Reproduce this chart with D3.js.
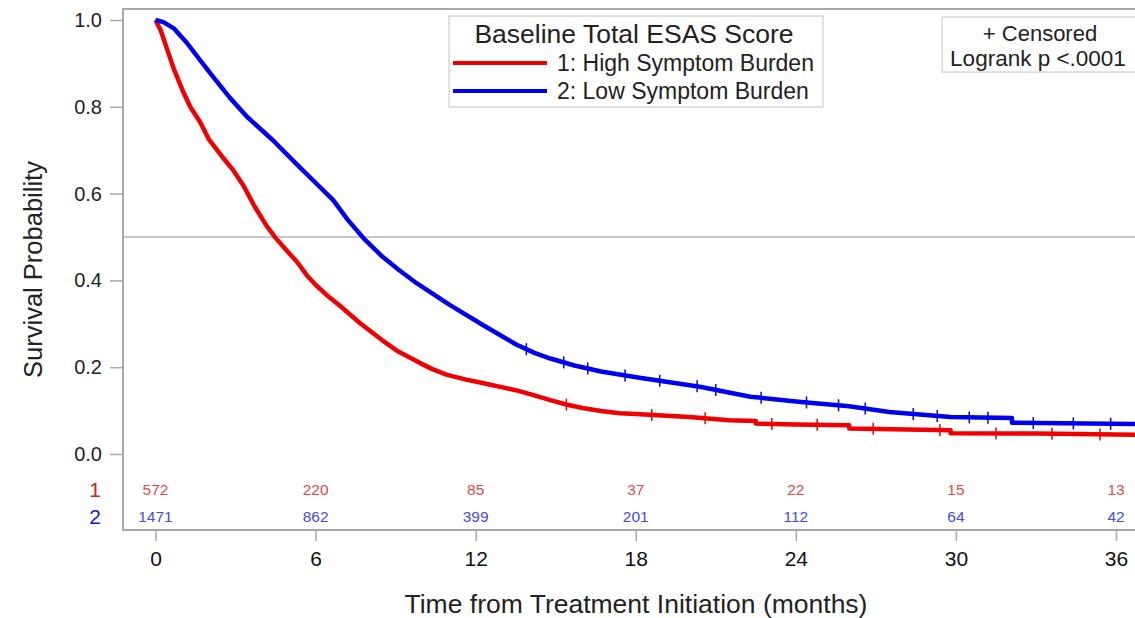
<!DOCTYPE html>
<html>
<head>
<meta charset="utf-8">
<script src="https://cdn.jsdelivr.net/npm/d3@7"></script>
<style>
  body { margin: 0; background: #fff; }
  text { font-family: "Liberation Sans", Arial, sans-serif; }
</style>
</head>
<body>
<div id="chart"></div>
<script>
// Kaplan-Meier estimates (months, survival)
const highTimes = [0, 0.2, 0.45, 0.7, 1.0, 1.3, 1.67, 2.0, 2.5, 2.9, 3.3, 3.7, 4.17, 4.5, 4.9, 5.3, 5.67, 6.0, 6.4, 6.9, 7.66, 8.5, 9.1, 9.9, 10.4, 10.9, 11.6, 12.3, 13.5, 14.2, 14.8, 15.4, 16.0, 16.7, 17.4, 18.0, 20.0, 21.5, 22.5, 22.5, 24.0, 26.0, 26.0, 29.8, 29.8, 33.0, 36.8];
const highSurv  = [1.0, 0.975, 0.93, 0.885, 0.84, 0.8, 0.765, 0.725, 0.685, 0.655, 0.618, 0.572, 0.525, 0.498, 0.47, 0.443, 0.412, 0.39, 0.367, 0.342, 0.302, 0.262, 0.236, 0.21, 0.195, 0.183, 0.172, 0.163, 0.147, 0.135, 0.124, 0.114, 0.106, 0.099, 0.094, 0.092, 0.085, 0.078, 0.076, 0.07, 0.068, 0.066, 0.059, 0.055, 0.048, 0.047, 0.044];
const lowTimes = [0, 0.3, 0.7, 1.18, 1.7, 2.16, 2.8, 3.43, 4.4, 5.4, 6.0, 6.66, 7.2, 7.8, 8.5, 9.1, 9.8, 11.04, 12.3, 13.5, 14.2, 14.8, 15.7, 16.7, 18.2, 20.4, 22.3, 24.2, 26.0, 27.5, 29.8, 32.1, 32.1, 36.8];
const lowSurv  = [1.0, 0.995, 0.98, 0.947, 0.905, 0.869, 0.82, 0.777, 0.723, 0.661, 0.625, 0.585, 0.54, 0.497, 0.455, 0.425, 0.393, 0.343, 0.296, 0.253, 0.233, 0.22, 0.204, 0.19, 0.175, 0.155, 0.132, 0.12, 0.11, 0.097, 0.085, 0.083, 0.072, 0.069];
const highCensored = [15.4, 18.6, 20.6, 23.1, 24.8, 26.9, 29.4, 31.5, 33.6, 35.4];
const lowCensored  = [13.9, 15.3, 16.2, 17.6, 18.9, 20.3, 21.0, 22.7, 24.4, 25.6, 26.6, 28.4, 29.3, 30.5, 31.2, 32.9, 34.4, 35.8];

const groupNames = ["1: High Symptom Burden", "2: Low Symptom Burden"];
const groupIds = ["1", "2"];
const groupColors = ["#f00000", "#0000f0"];
const riskColors = ["#e04a4a", "#4a4ae0"];
const riskTimes = [0, 6, 12, 18, 24, 30, 36];
const highAtRisk = [572, 220, 85, 37, 22, 15, 13];
const lowAtRisk = [1471, 862, 399, 201, 112, 64, 42];
const yTicks = [0, 0.2, 0.4, 0.6, 0.8, 1.0];
const xTicks = [0, 6, 12, 18, 24, 30, 36];

const W = 1135, H = 618;
const frameLeft = 123, frameTop = 9, frameBottom = 530, frameRight = W + 5;

const svg = d3.select('#chart').append('svg')
    .attr('width', W)
    .attr('height', H);

const x = d3.scaleLinear().domain([0, 36]).range([155.5, 1116]);
const y = d3.scaleLinear().domain([0, 1]).range([454, 20]);

// frame
svg.append('rect')
    .attr('x', frameLeft)
    .attr('y', frameTop)
    .attr('width', frameRight - frameLeft)
    .attr('height', frameBottom - frameTop)
    .attr('fill', 'none')
    .attr('stroke', '#a8a8a8')
    .attr('stroke-width', 2);

// median reference line
svg.append('line')
    .attr('x1', frameLeft)
    .attr('x2', frameRight)
    .attr('y1', y(0.5))
    .attr('y2', y(0.5))
    .attr('stroke', '#b4b4b4')
    .attr('stroke-width', 1.5);

// y axis
const yAxis = svg.append('g')
    .attr('transform', `translate(${frameLeft},0)`)
    .call(d3.axisLeft(y).tickValues(yTicks).tickFormat(d3.format('.1f')).tickSize(13).tickPadding(8));
yAxis.select('.domain').remove();
yAxis.selectAll('line').attr('stroke', '#a8a8a8').attr('stroke-width', 1.5);
yAxis.selectAll('text').attr('fill', '#222').style('font-size', '20px').style('font-family', '"Liberation Sans", Arial, sans-serif');

// x axis
const xAxis = svg.append('g')
    .attr('transform', `translate(0,${frameBottom})`)
    .call(d3.axisBottom(x).tickValues(xTicks).tickSize(11).tickPadding(10));
xAxis.select('.domain').remove();
xAxis.selectAll('line').attr('stroke', '#a8a8a8').attr('stroke-width', 1.5);
xAxis.selectAll('text').attr('fill', '#111').style('font-size', '21px').style('font-family', '"Liberation Sans", Arial, sans-serif');

// axis titles
svg.append('text')
    .attr('x', 636)
    .attr('y', 613)
    .attr('text-anchor', 'middle')
    .attr('fill', '#222')
    .style('font-size', '26.5px')
    .text('Time from Treatment Initiation (months)');
svg.append('text')
    .attr('transform', `translate(42,${(frameTop + frameBottom) / 2}) rotate(-90)`)
    .attr('text-anchor', 'middle')
    .attr('fill', '#222')
    .style('font-size', '25.5px')
    .text('Survival Probability');

// curves
const series = [
    { times: highTimes, surv: highSurv, cens: highCensored },
    { times: lowTimes, surv: lowSurv, cens: lowCensored }
];
const line = d3.line()
    .x(d => x(d[0]))
    .y(d => y(d[1]));
const plot = svg.append('g');
series.forEach((s, i) => {
    const pts = s.times.map((t, j) => [t, s.surv[j]]);
    plot.append('path')
        .attr('d', line(pts))
        .attr('fill', 'none')
        .attr('stroke', groupColors[i])
        .attr('stroke-width', 4.5)
        .attr('stroke-linejoin', 'round');
    // censor marks sit on the curve
    s.cens.forEach(c => {
        let k = d3.bisectRight(s.times, c);
        k = Math.min(Math.max(k, 1), s.times.length - 1);
        const t0 = s.times[k - 1], t1 = s.times[k];
        const f = t1 === t0 ? 0 : (c - t0) / (t1 - t0);
        const sv = s.surv[k - 1] + (s.surv[k] - s.surv[k - 1]) * f;
        plot.append('line')
            .attr('x1', x(c))
            .attr('x2', x(c))
            .attr('y1', y(sv) - 6)
            .attr('y2', y(sv) + 6)
            .attr('stroke', groupColors[i])
            .attr('stroke-width', 1.5);
    });
});

// at-risk table
const riskRows = [highAtRisk, lowAtRisk];
const rowY = [490, 517];
riskRows.forEach((row, i) => {
    svg.append('text')
        .attr('x', 101)
        .attr('y', rowY[i])
        .attr('dy', '0.35em')
        .attr('text-anchor', 'end')
        .attr('fill', i === 0 ? '#d42020' : '#2020c0')
        .style('font-size', '21px')
        .text(groupIds[i]);
    svg.append('g').selectAll('text')
        .data(row)
        .join('text')
        .attr('x', (d, j) => x(riskTimes[j]))
        .attr('y', rowY[i])
        .attr('dy', '0.35em')
        .attr('text-anchor', 'middle')
        .attr('fill', riskColors[i])
        .style('font-size', '15.5px')
        .text(d => d);
});

// legend
const legend = svg.append('g');
legend.append('rect')
    .attr('x', 449)
    .attr('y', 16)
    .attr('width', 374)
    .attr('height', 91)
    .attr('fill', '#fff')
    .attr('stroke', '#c4c4c4')
    .attr('stroke-width', 1);
legend.append('text')
    .attr('x', 634)
    .attr('y', 34)
    .attr('dy', '0.35em')
    .attr('text-anchor', 'middle')
    .attr('fill', '#222')
    .style('font-size', '26.5px')
    .text('Baseline Total ESAS Score');
groupNames.forEach((name, i) => {
    const ly = 63 + i * 28;
    legend.append('line')
        .attr('x1', 453)
        .attr('x2', 547)
        .attr('y1', ly)
        .attr('y2', ly)
        .attr('stroke', groupColors[i])
        .attr('stroke-width', 4);
    legend.append('text')
        .attr('x', 557)
        .attr('y', ly)
        .attr('dy', '0.35em')
        .attr('fill', '#222')
        .style('font-size', '23px')
        .text(name);
});

// censored / logrank box
const note = svg.append('g');
note.append('rect')
    .attr('x', 942)
    .attr('y', 17)
    .attr('width', 200)
    .attr('height', 55)
    .attr('fill', '#fff')
    .attr('stroke', '#c4c4c4')
    .attr('stroke-width', 1);
note.append('text')
    .attr('x', 1040)
    .attr('y', 33)
    .attr('dy', '0.35em')
    .attr('text-anchor', 'middle')
    .attr('fill', '#222')
    .style('font-size', '22px')
    .text('+ Censored');
note.append('text')
    .attr('x', 1038)
    .attr('y', 58)
    .attr('dy', '0.35em')
    .attr('text-anchor', 'middle')
    .attr('fill', '#222')
    .style('font-size', '22.5px')
    .text('Logrank p <.0001');
</script>
</body>
</html>
